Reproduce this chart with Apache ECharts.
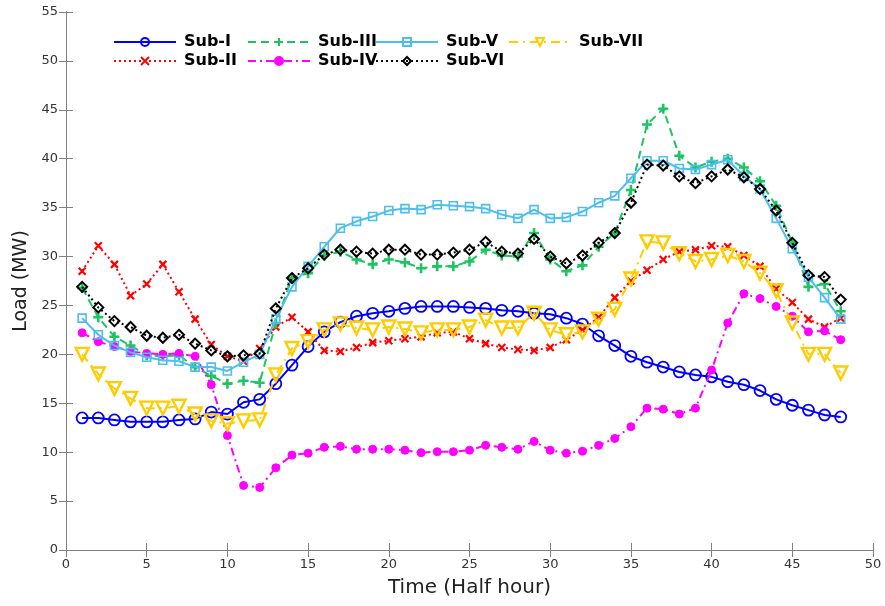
<!DOCTYPE html>
<html>
<head>
<meta charset="utf-8">
<script src="https://cdn.jsdelivr.net/npm/echarts@6/dist/echarts.min.js"></script>
<style>html,body{margin:0;padding:0;background:#fff}#c{width:885px;height:606px}</style>
</head>
<body>
<div id="c"></div>
<script>
const time = [1,2,3,4,5,6,7,8,9,10,11,12,13,14,15,16,17,18,19,20,21,22,23,24,25,26,27,28,29,30,31,32,33,34,35,36,37,38,39,40,41,42,43,44,45,46,47,48];
const subI   = [13.5,13.5,13.3,13.1,13.1,13.1,13.3,13.4,14.1,13.9,15.1,15.4,17.0,18.9,20.8,22.3,23.3,23.9,24.2,24.4,24.7,24.9,24.9,24.9,24.8,24.7,24.5,24.4,24.2,24.1,23.7,23.1,21.9,20.9,19.8,19.2,18.7,18.2,17.9,17.7,17.2,16.9,16.3,15.4,14.8,14.3,13.8,13.6];
const subII  = [28.5,31.1,29.2,26.0,27.2,29.2,26.4,23.6,21.0,19.8,19.3,20.6,22.8,23.8,22.3,20.4,20.3,20.7,21.2,21.4,21.6,21.8,22.2,22.3,21.6,21.1,20.7,20.5,20.4,20.7,21.5,22.5,23.8,25.8,27.5,28.6,29.7,30.5,30.7,31.1,31.0,30.1,29.0,26.7,25.3,23.6,22.8,23.7];
const subIII = [26.8,23.8,21.8,20.9,19.9,19.8,19.9,18.7,17.8,17.0,17.3,17.1,23.2,27.8,28.3,30.1,30.5,29.7,29.2,29.7,29.4,28.8,29.0,29.0,29.5,30.7,30.1,30.0,32.4,29.7,28.5,29.1,31.0,32.4,36.8,43.5,45.1,40.3,39.1,39.7,40.0,39.1,37.7,35.2,31.4,26.9,27.2,24.4];
const subIV  = [22.2,21.3,20.8,20.3,20.1,20.0,20.1,19.8,16.9,11.7,6.6,6.4,8.4,9.7,9.9,10.5,10.6,10.3,10.3,10.3,10.2,9.95,10.05,10.05,10.2,10.7,10.5,10.3,11.1,10.2,9.9,10.1,10.7,11.4,12.6,14.5,14.4,13.9,14.5,18.4,23.2,26.2,25.7,24.9,23.9,22.3,22.4,21.5];
const subV   = [23.7,22.0,20.9,20.2,19.7,19.4,19.3,18.7,18.7,18.3,19.2,20.0,23.6,26.9,29.0,31.0,32.9,33.6,34.1,34.7,34.9,34.8,35.3,35.2,35.1,34.9,34.3,33.9,34.8,33.9,34.0,34.6,35.5,36.2,38.0,39.8,39.8,39.0,38.9,39.4,39.9,38.2,36.9,33.9,30.8,27.9,25.8,23.6];
const subVI  = [26.9,24.8,23.4,22.8,21.9,21.7,22.0,21.1,20.4,19.8,19.9,20.1,24.7,27.8,28.8,30.2,30.7,30.5,30.3,30.7,30.7,30.2,30.2,30.4,30.7,31.5,30.5,30.3,31.8,30.0,29.3,30.1,31.4,32.4,35.5,39.4,39.3,38.2,37.5,38.2,38.9,38.1,36.9,34.7,31.4,28.1,27.9,25.6];
const subVII = [20.0,18.0,16.5,15.5,14.5,14.5,14.7,13.9,13.2,12.9,13.2,13.3,17.9,20.6,21.3,22.5,23.1,22.7,22.5,22.8,22.6,22.2,22.5,22.5,22.8,23.5,22.7,22.7,24.2,22.5,22.0,22.3,23.6,24.6,27.7,31.5,31.4,30.3,29.5,29.7,30.1,29.5,28.3,26.5,23.2,20.0,20.0,18.1];
const names = ['Sub-I','Sub-II','Sub-III','Sub-IV','Sub-V','Sub-VI','Sub-VII'];
const xTicks = [0,5,10,15,20,25,30,35,40,45,50];
const yTicks = [0,5,10,15,20,25,30,35,40,45,50,55];

const values = [subI, subII, subIII, subIV, subV, subVI, subVII];
const styles = [
  {color:'#0000FF', type:'solid', symbol:'circle', size:11, fill:'rgba(0,0,0,0)', bw:1.8},
  {color:'#FF0000', type:[2,3], symbol:'path://M0,0L10,10M10,0L0,10', size:7, fill:'rgba(0,0,0,0)', bw:2.2},
  {color:'#1DC462', type:[8,5], symbol:'path://M5,0L5,10M0,5L10,5', size:10, fill:'rgba(0,0,0,0)', bw:2.6},
  {color:'#FF00FF', type:[8,4,2,4], symbol:'circle', size:8, fill:'#FF00FF', bw:1},
  {color:'#4DBEEE', type:'solid', symbol:'rect', size:8, fill:'rgba(0,0,0,0)', bw:1.6},
  {color:'#000000', type:[2,3], symbol:'diamond', size:10, fill:'rgba(0,0,0,0)', bw:2},
  {color:'#FFCC00', type:[9,5,2,5], symbol:'path://M0,0L10,0L5,9Z', size:13, fill:'rgba(0,0,0,0)', bw:2.4}
];

const series = names.map((n,i)=>({
  name:n, type:'line', xAxisIndex:0, yAxisIndex:0,
  data: time.map((t,k)=>[t, values[i][k]]),
  symbol: styles[i].symbol, symbolSize: styles[i].size, showAllSymbol:true,
  lineStyle:{color:styles[i].color, width:2, type:styles[i].type},
  itemStyle:{color:styles[i].fill, borderColor:styles[i].color, borderWidth:styles[i].bw},
  emphasis:{disabled:true}, animation:false, z: 2+i
}));

const FONT = 'DejaVu Sans, Liberation Sans, Arial, sans-serif';
const legendText = {fontFamily:FONT, fontWeight:'bold', fontSize:16, color:'#000', padding:[0,0,0,3], lineHeight:14};
function leg(left, data){
  return {orient:'vertical', left:left, top:34, padding:0, itemGap:3, itemWidth:62, itemHeight:10,
    data:data, textStyle:legendText, selectedMode:false};
}

const axisLine = {show:true, lineStyle:{color:'#808080', width:1}};
const labelStyle = {color:'#333', fontSize:13, fontFamily:FONT};

const chart = echarts.init(document.getElementById('c'), null, {renderer:'canvas'});
chart.setOption({
  backgroundColor:'#fff',
  animation:false,
  grid:{left:66, right:12, top:12, bottom:56, containLabel:false},
  legend:[leg(113,['Sub-I','Sub-II']), leg(247,['Sub-III','Sub-IV']), leg(375,['Sub-V','Sub-VI']), leg(508,['Sub-VII'])],
  xAxis:[
    {type:'value', min:0, max:50, interval:5, position:'bottom',
     axisLine:axisLine, axisTick:{inside:true, length:7, lineStyle:{color:'#808080'}},
     axisLabel:{...labelStyle, margin:8, formatter:v=>xTicks.includes(v)?String(v):''}, splitLine:{show:false},
     name:'Time (Half hour)', nameLocation:'middle', nameGap:28,
     nameTextStyle:{fontSize:20, color:'#222', fontFamily:FONT}},
    {type:'value', min:0, max:50, interval:5, position:'top',
     axisLine:axisLine, axisTick:{inside:true, length:7, lineStyle:{color:'#808080'}},
     axisLabel:{show:false}, splitLine:{show:false}}
  ],
  yAxis:[
    {type:'value', min:0, max:55, interval:5, position:'left',
     axisLine:axisLine, axisTick:{inside:true, length:7, lineStyle:{color:'#808080'}},
     axisLabel:{...labelStyle, margin:8, formatter:v=>yTicks.includes(v)?String(v):''}, splitLine:{show:false},
     name:'Load (MW)', nameLocation:'middle', nameGap:33, nameRotate:90,
     nameTextStyle:{fontSize:19, color:'#222', fontFamily:FONT}},
    {type:'value', min:0, max:55, interval:5, position:'right',
     axisLine:axisLine, axisTick:{inside:true, length:7, lineStyle:{color:'#808080'}},
     axisLabel:{show:false}, splitLine:{show:false}}
  ],
  series:series
});
</script>
</body>
</html>
